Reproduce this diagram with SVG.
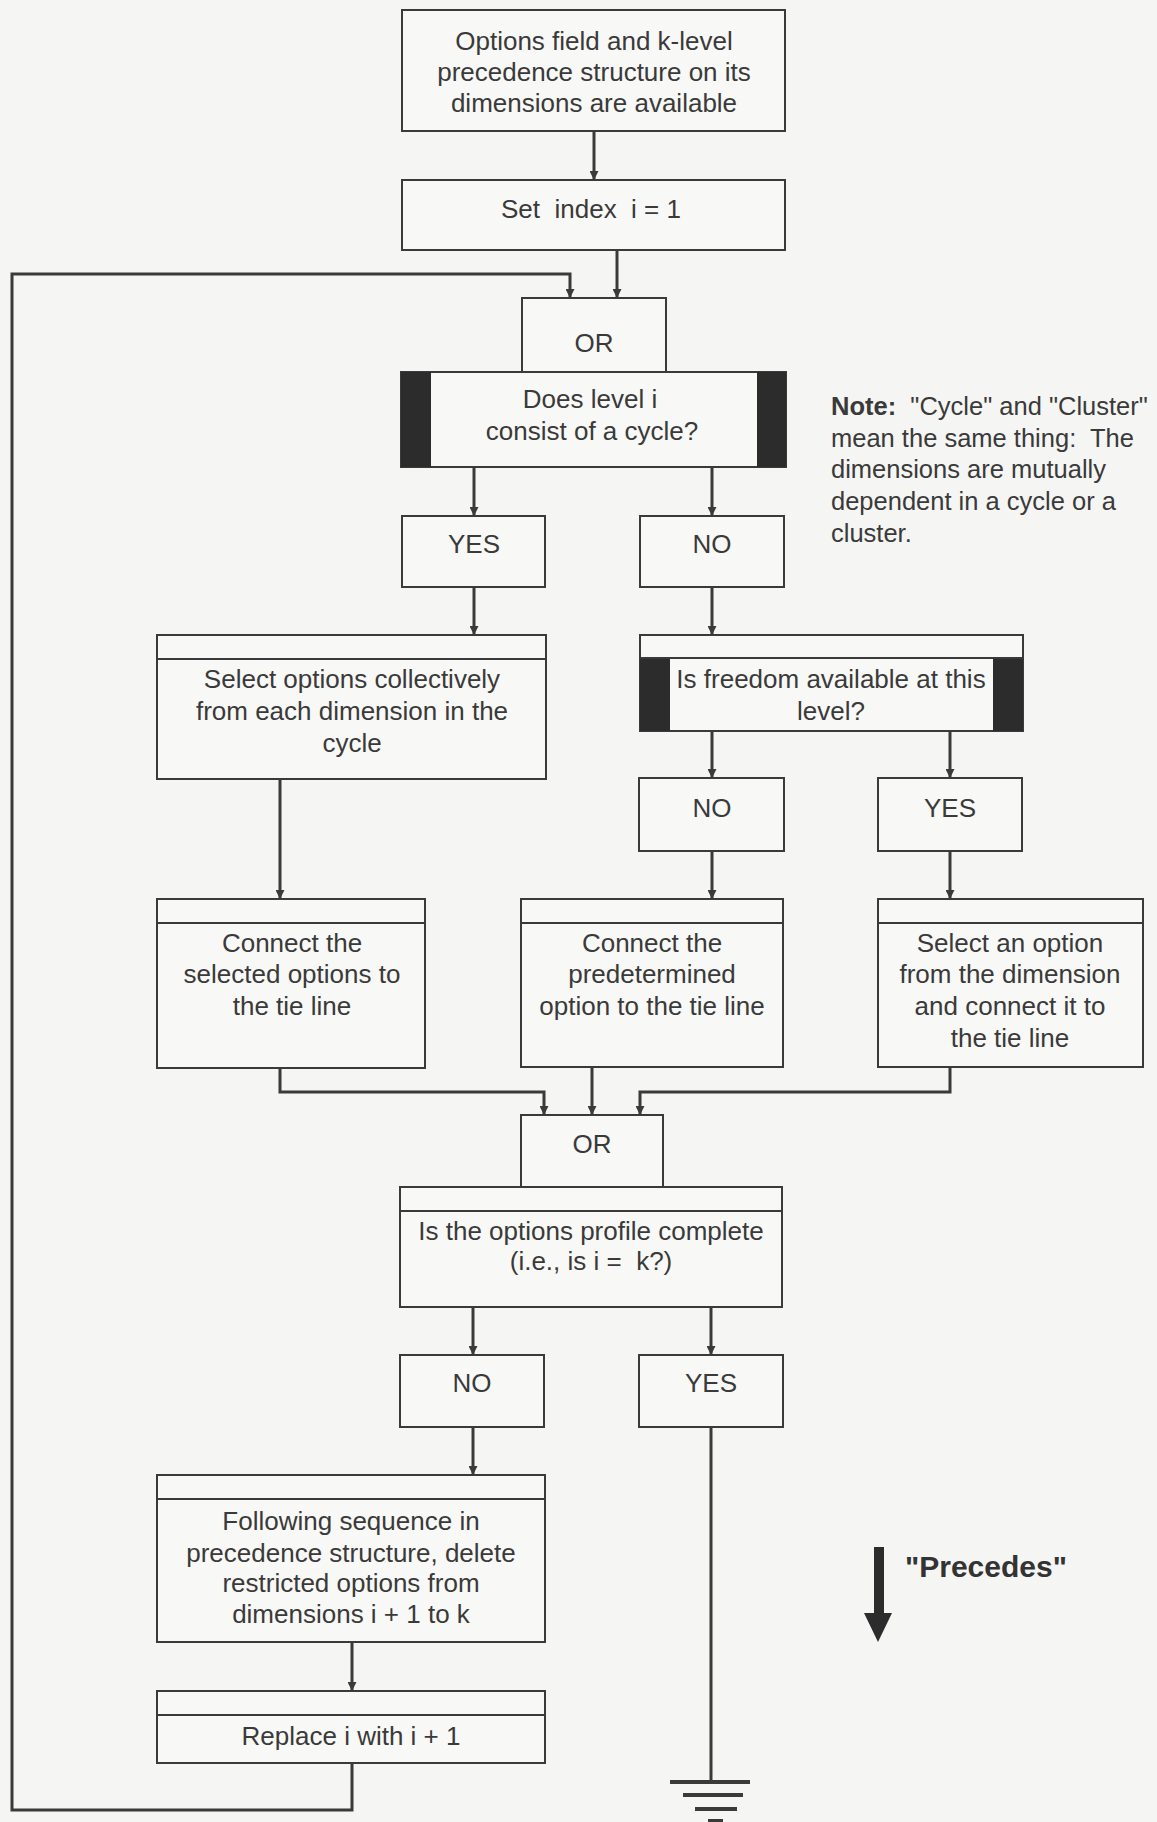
<svg xmlns="http://www.w3.org/2000/svg" width="1157" height="1822" viewBox="0 0 1157 1822">
  <defs>
    <style>
      .box { fill: #f8f8f6; stroke: #3a3a3a; stroke-width: 2; }
      .hdr { fill: none; stroke: #3a3a3a; stroke-width: 2; }
      .band { fill: #2c2c2c; }
      .t { font-family: "Liberation Sans", Arial, Helvetica, sans-serif; font-size: 26px; fill: #3a3a3a; text-anchor: middle; white-space: pre; }
      .note { font-family: "Liberation Sans", Arial, Helvetica, sans-serif; font-size: 25.5px; fill: #3a3a3a; white-space: pre; }
      .wire { fill: none; stroke: #3a3a3a; stroke-width: 3; }
      .gnd { stroke: #3a3a3a; stroke-width: 4; }
    </style>
    <marker id="ah" viewBox="0 0 10 10" refX="10" refY="5" markerWidth="9" markerHeight="9" markerUnits="userSpaceOnUse" orient="auto">
      <path d="M0,0 L10,5 L0,10 z" fill="#3a3a3a"/>
    </marker>
  </defs>

  <rect width="1157" height="1822" fill="#f5f5f3"/>

  <!-- connectors -->
  <g id="connectors">
    <path class="wire" d="M594,131 V180" marker-end="url(#ah)"/>
    <path class="wire" d="M617,250 V298" marker-end="url(#ah)"/>
    <path class="wire" d="M352,1763 V1810 H12 V274 H570 V298" marker-end="url(#ah)"/>
    <path class="wire" d="M474,467 V516" marker-end="url(#ah)"/>
    <path class="wire" d="M712,467 V516" marker-end="url(#ah)"/>
    <path class="wire" d="M474,587 V635" marker-end="url(#ah)"/>
    <path class="wire" d="M712,587 V635" marker-end="url(#ah)"/>
    <path class="wire" d="M280,779 V899" marker-end="url(#ah)"/>
    <path class="wire" d="M712,731 V778" marker-end="url(#ah)"/>
    <path class="wire" d="M950,731 V778" marker-end="url(#ah)"/>
    <path class="wire" d="M712,851 V899" marker-end="url(#ah)"/>
    <path class="wire" d="M950,851 V899" marker-end="url(#ah)"/>
    <path class="wire" d="M280,1068 V1092 H544 V1115" marker-end="url(#ah)"/>
    <path class="wire" d="M592,1067 V1115" marker-end="url(#ah)"/>
    <path class="wire" d="M950,1067 V1092 H640 V1115" marker-end="url(#ah)"/>
    <path class="wire" d="M473,1307 V1355" marker-end="url(#ah)"/>
    <path class="wire" d="M711,1307 V1355" marker-end="url(#ah)"/>
    <path class="wire" d="M473,1427 V1475" marker-end="url(#ah)"/>
    <path class="wire" d="M352,1642 V1691" marker-end="url(#ah)"/>
    <path class="wire" d="M711,1427 V1782"/>
  </g>

  <!-- terminal: ground symbol -->
  <g id="ground">
    <line class="gnd" x1="670" y1="1782" x2="750" y2="1782"/>
    <line class="gnd" x1="683" y1="1795" x2="743" y2="1795"/>
    <line class="gnd" x1="695" y1="1809" x2="737" y2="1809"/>
    <line class="gnd" x1="708" y1="1821" x2="723" y2="1821"/>
  </g>

  <g id="start">
    <rect class="box" x="402" y="10" width="383" height="121"/>
    <text class="t" x="594" y="50">Options field and k-level</text>
    <text class="t" x="594" y="81">precedence structure on its</text>
    <text class="t" x="594" y="112">dimensions are available</text>
  </g>

  <g id="set-index">
    <rect class="box" x="402" y="180" width="383" height="70"/>
    <text class="t" x="591" y="218">Set  index  i = 1</text>
  </g>

  <g id="or-1">
    <rect class="box" x="522" y="298" width="144" height="74"/>
    <text class="t" x="594" y="352">OR</text>
  </g>

  <g id="cycle-test">
    <rect class="box" x="401" y="372" width="385" height="95"/>
    <rect class="band" x="401" y="372" width="30" height="95"/>
    <rect class="band" x="757" y="372" width="29" height="95"/>
    <text class="t" x="590" y="408">Does level i</text>
    <text class="t" x="592" y="440">consist of a cycle?</text>
  </g>

  <g id="note">
    <text class="note" x="831" y="415"><tspan font-weight="bold">Note:</tspan>  "Cycle" and "Cluster"</text>
    <text class="note" x="831" y="447">mean the same thing:  The</text>
    <text class="note" x="831" y="478">dimensions are mutually</text>
    <text class="note" x="831" y="510">dependent in a cycle or a</text>
    <text class="note" x="831" y="542">cluster.</text>
  </g>

  <g id="yes-cycle">
    <rect class="box" x="402" y="516" width="143" height="71"/>
    <text class="t" x="474" y="553">YES</text>
  </g>

  <g id="no-cycle">
    <rect class="box" x="640" y="516" width="144" height="71"/>
    <text class="t" x="712" y="553">NO</text>
  </g>

  <g id="select-collectively">
    <rect class="box" x="157" y="635" width="389" height="144"/>
    <line class="hdr" x1="157" y1="659" x2="546" y2="659"/>
    <text class="t" x="352" y="688">Select options collectively</text>
    <text class="t" x="352" y="720">from each dimension in the</text>
    <text class="t" x="352" y="752">cycle</text>
  </g>

  <g id="freedom-test">
    <rect class="box" x="640" y="635" width="383" height="96"/>
    <rect class="band" x="640" y="658" width="30" height="73"/>
    <rect class="band" x="993" y="658" width="30" height="73"/>
    <line class="hdr" x1="640" y1="658" x2="1023" y2="658"/>
    <text class="t" x="831" y="688">Is freedom available at this</text>
    <text class="t" x="831" y="720">level?</text>
  </g>

  <g id="no-freedom">
    <rect class="box" x="639" y="778" width="145" height="73"/>
    <text class="t" x="712" y="817">NO</text>
  </g>

  <g id="yes-freedom">
    <rect class="box" x="878" y="778" width="144" height="73"/>
    <text class="t" x="950" y="817">YES</text>
  </g>

  <g id="connect-selected">
    <rect class="box" x="157" y="899" width="268" height="169"/>
    <line class="hdr" x1="157" y1="923" x2="425" y2="923"/>
    <text class="t" x="292" y="952">Connect the</text>
    <text class="t" x="292" y="983">selected options to</text>
    <text class="t" x="292" y="1015">the tie line</text>
  </g>

  <g id="connect-predetermined">
    <rect class="box" x="521" y="899" width="262" height="168"/>
    <line class="hdr" x1="521" y1="923" x2="783" y2="923"/>
    <text class="t" x="652" y="952">Connect the</text>
    <text class="t" x="652" y="983">predetermined</text>
    <text class="t" x="652" y="1015">option to the tie line</text>
  </g>

  <g id="select-option">
    <rect class="box" x="878" y="899" width="265" height="168"/>
    <line class="hdr" x1="878" y1="923" x2="1143" y2="923"/>
    <text class="t" x="1010" y="952">Select an option</text>
    <text class="t" x="1010" y="983">from the dimension</text>
    <text class="t" x="1010" y="1015">and connect it to</text>
    <text class="t" x="1010" y="1047">the tie line</text>
  </g>

  <g id="or-2">
    <rect class="box" x="521" y="1115" width="142" height="72"/>
    <text class="t" x="592" y="1153">OR</text>
  </g>

  <g id="complete-test">
    <rect class="box" x="400" y="1187" width="382" height="120"/>
    <line class="hdr" x1="400" y1="1211" x2="782" y2="1211"/>
    <text class="t" x="591" y="1240">Is the options profile complete</text>
    <text class="t" x="591" y="1270">(i.e., is i =  k?)</text>
  </g>

  <g id="no-complete">
    <rect class="box" x="400" y="1355" width="144" height="72"/>
    <text class="t" x="472" y="1392">NO</text>
  </g>

  <g id="yes-complete">
    <rect class="box" x="639" y="1355" width="144" height="72"/>
    <text class="t" x="711" y="1392">YES</text>
  </g>

  <g id="delete-restricted">
    <rect class="box" x="157" y="1475" width="388" height="167"/>
    <line class="hdr" x1="157" y1="1499" x2="545" y2="1499"/>
    <text class="t" x="351" y="1530">Following sequence in</text>
    <text class="t" x="351" y="1562">precedence structure, delete</text>
    <text class="t" x="351" y="1592">restricted options from</text>
    <text class="t" x="351" y="1623">dimensions i + 1 to k</text>
  </g>

  <g id="increment">
    <rect class="box" x="157" y="1691" width="388" height="72"/>
    <line class="hdr" x1="157" y1="1715" x2="545" y2="1715"/>
    <text class="t" x="351" y="1745">Replace i with i + 1</text>
  </g>

  <!-- legend: direction of precedence -->
  <g id="legend">
    <rect x="874" y="1547" width="10" height="68" fill="#2c2c2c"/>
    <polygon points="864,1613 892,1613 878,1642" fill="#2c2c2c"/>
    <text x="905" y="1577" font-family="'Liberation Sans', Arial, Helvetica, sans-serif" font-size="30px" font-weight="bold" fill="#333">"Precedes"</text>
  </g>
</svg>
